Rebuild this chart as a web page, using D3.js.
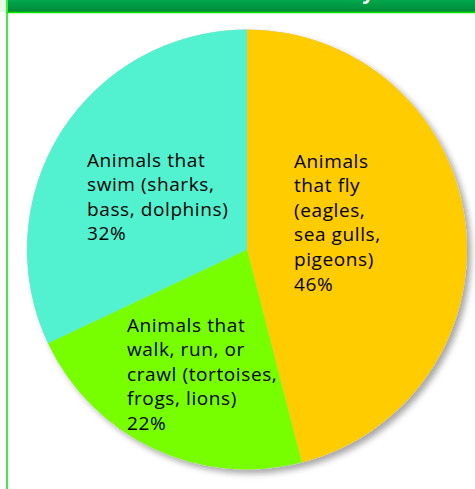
<!DOCTYPE html>
<html>
<head>
<meta charset="utf-8">
<script src="https://cdn.jsdelivr.net/npm/d3@7"></script>
<style>
  body { margin: 0; background: #fff; }
  svg { display: block; }
</style>
</head>
<body>
<div id="chart"></div>
<script>
// Slice data, clockwise from 12 o'clock
const categories = ["fly", "walk", "swim"];
const percents = [46, 22, 32];
const labelLines = [
  ["Animals", "that fly", "(eagles,", "sea gulls,", "pigeons)", "46%"],
  ["Animals that", "walk, run, or", "crawl (tortoises,", "frogs, lions)", "22%"],
  ["Animals that", "swim (sharks,", "bass, dolphins)", "32%"]
];
const colors = ["#ffcc00", "#77ff00", "#52f2d0"];

const width = 475, height = 489;
const cx = 247, cy = 249.5, radius = 220;

const svg = d3.select("#chart").append("svg")
    .attr("width", width)
    .attr("height", height);

const defs = svg.append("defs");
const grad = defs.append("linearGradient")
    .attr("id", "hdr").attr("x1", 0).attr("y1", 0).attr("x2", 0).attr("y2", 1);
grad.append("stop").attr("offset", "0%").attr("stop-color", "#00a84e");
grad.append("stop").attr("offset", "100%").attr("stop-color", "#008a36");

const shadow = defs.append("filter").attr("id", "shadow")
    .attr("x", "-10%").attr("y", "-10%").attr("width", "125%").attr("height", "125%");
shadow.append("feDropShadow")
    .attr("dx", 4).attr("dy", 4).attr("stdDeviation", 3)
    .attr("flood-color", "#000").attr("flood-opacity", 0.35);

// header band (title mostly cropped off)
svg.append("rect").attr("x", 0).attr("y", 0).attr("width", 8).attr("height", 12)
    .attr("fill", "#e6fae6");
svg.append("rect").attr("x", 8).attr("y", 0).attr("width", width - 8).attr("height", 12)
    .attr("fill", "url(#hdr)");
svg.append("text")
    .attr("x", 374).attr("y", -1)
    .attr("text-anchor", "end")
    .attr("font-family", "Open Sans, sans-serif")
    .attr("font-weight", "bold")
    .attr("font-size", 20)
    .attr("fill", "#fff")
    .text("Animal Survey");
svg.append("line").attr("x1", 7).attr("x2", width).attr("y1", 12.5).attr("y2", 12.5)
    .attr("stroke", "#00e600").attr("stroke-width", 1.5);
svg.append("line").attr("x1", 7).attr("x2", 7).attr("y1", 0).attr("y2", height)
    .attr("stroke", "#00e600").attr("stroke-width", 1.5);

const pie = d3.pie().sort(null).value(d => d)(percents);
const arc = d3.arc().innerRadius(0).outerRadius(radius);

const g = svg.append("g").attr("transform", `translate(${cx},${cy})`);

g.append("circle").attr("r", radius).attr("fill", "#ccc")
    .attr("filter", "url(#shadow)");

g.selectAll("path.slice")
    .data(pie)
    .join("path")
    .attr("class", "slice")
    .attr("d", arc)
    .attr("fill", (d, i) => colors[i]);

// label anchor points (left edge, first baseline), relative to centre
const labelPos = [[47, -82], [-120, 82], [-160, -83]];
const lineH = 24.6;

labelLines.forEach((lines, i) => {
  const t = g.append("text")
      .attr("font-family", "Open Sans, sans-serif")
      .attr("font-size", 19)
      .attr("letter-spacing", 0.6)
      .attr("fill", "#000");
  lines.forEach((s, j) => {
    t.append("tspan")
        .attr("x", labelPos[i][0])
        .attr("y", labelPos[i][1] + j * lineH)
        .text(s);
  });
});
</script>
</body>
</html>
